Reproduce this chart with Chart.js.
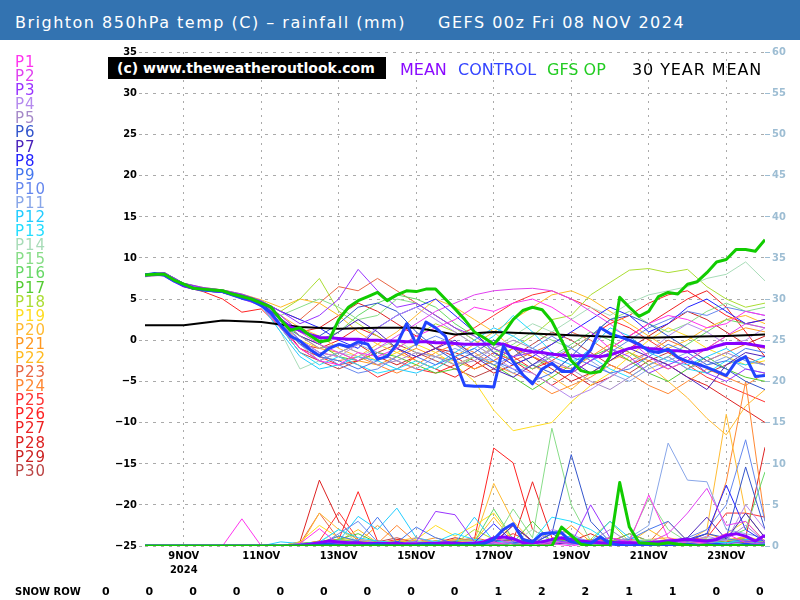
<!DOCTYPE html>
<html>
<head>
<meta charset="utf-8">
<script src="https://cdn.jsdelivr.net/npm/chart.js@4.4.1/dist/chart.umd.min.js"></script>
<style>
  body { margin: 0; width: 800px; height: 600px; position: relative; overflow: hidden; background: #fff; font-family: "DejaVu Sans", sans-serif; }
  #c { position: absolute; left: 0; top: 0; }
  #bar { position: absolute; left: 0; top: 0; width: 800px; height: 40px; background: #3373b1; }
  .ttl { position: absolute; top: 13px; color: #fff; font-size: 16px; letter-spacing: 1.5px; white-space: pre; }
  #plegend { position: absolute; left: 15px; top: 55px; font-size: 15px; line-height: 14.1px; letter-spacing: 1px; }
  #wm { position: absolute; left: 108px; top: 57px; width: 269px; height: 22px; padding-left: 9px; background: #000; color: #fff; font-weight: bold; font-size: 14px; line-height: 22px; }
  .lg { position: absolute; top: 60px; font-size: 16px; }
  .snow { position: absolute; top: 585px; font-weight: bold; font-size: 11px; }
</style>
</head>
<body>
<canvas id="c" width="800" height="600"></canvas>
<div id="bar"></div>
<div class="ttl" style="left:15px">Brighton 850hPa temp (C) – rainfall (mm)</div>
<div class="ttl" style="left:438px">GEFS 00z Fri 08 NOV 2024</div>
<div id="plegend"></div>
<div id="wm">(c) www.theweatheroutlook.com</div>
<div class="lg" style="left:400px;color:#8a0aff">MEAN</div>
<div class="lg" style="left:458px;color:#3344ff">CONTROL</div>
<div class="lg" style="left:547px;color:#22cc22">GFS OP</div>
<div class="lg" style="left:632px;color:#000;letter-spacing:0.9px">30 YEAR MEAN</div>
<div class="snow" style="left:15px;font-size:10px;top:586px">SNOW ROW</div>
<div id="snowvals"></div>
<script>
// forecast hours from 00z 08 Nov
const hours6 = [0,6,12,18,24,30,36,42,48,54,60,66,72,78,84,90,96,102,108,114,120,126,132,138,144,150,156,162,168,174,180,186,192,198,204,210,216,222,228,234,240,246,252,258,264,270,276,282,288,294,300,306,312,318,324,330,336,342,348,354,360,366,372,378,384];
const hours12 = [0,12,24,36,48,60,72,84,96,108,120,132,144,156,168,180,192,204,216,228,240,252,264,276,288,300,312,324,336,348,360,372,384];
const hours24 = [0,24,48,72,96,120,144,168,192,216,240,264,288,312,336,360,384];

const dateTicks = [24,72,120,168,216,264,312,360];
const dateLabels = [['9NOV','2024'],'11NOV','13NOV','15NOV','17NOV','19NOV','21NOV','23NOV'];
const snowRow = [0,0,0,0,0,0,0,0,0,1,2,2,1,1,0,0];

// 850hPa temps (C)
const opTemp = [7.9,8.0,8.0,7.3,6.8,6.3,6.2,6.1,
  6.0,5.6,5.3,5.0,4.5,4.0,2.5,1.2,
  1.5,0.6,-0.2,0.0,2.5,4.0,4.8,5.3,
  5.8,4.8,5.5,6.0,5.9,6.2,6.2,5.0,
  3.8,2.5,1.0,0.3,-0.5,0.8,2.5,3.6,
  4.0,3.7,2.3,0.0,-2.5,-3.7,-4.0,-3.8,
  -2.0,5.2,4.0,2.9,3.5,5.3,5.8,5.6,
  6.8,7.1,8.2,9.5,9.8,11.0,11.0,10.8,
  12.2];
const controlTemp = [7.9,8.1,7.9,7.2,6.7,6.3,6.1,6.0,
  5.9,5.5,5.1,4.8,4.2,3.3,1.8,0.5,
  -0.1,-1.1,-1.9,-1.0,-0.5,-0.8,-0.2,-0.5,
  -2.3,-2.0,-0.5,2.0,-0.5,2.2,1.5,0.5,
  -2.5,-5.5,-5.6,-5.6,-5.7,-0.7,-2.6,-4.2,
  -5.3,-3.5,-2.8,-3.8,-3.8,-2.5,-1.2,1.5,
  0.8,0.4,0.0,-0.5,-1.3,-1.5,-1.1,-2.1,
  -2.6,-2.9,-3.3,-3.8,-4.3,-2.6,-2.0,-4.4,
  -4.3];
const meanTemp = [7.9,8.0,7.9,7.2,6.6,6.3,6.2,6.0,
  5.9,5.6,5.3,5.0,4.5,4.0,2.5,1.6,
  1.2,0.7,0.3,0.3,0.2,0.1,0.1,0.0,
  0.0,-0.1,-0.1,-0.2,-0.2,-0.2,-0.3,-0.3,
  -0.4,-0.5,-0.5,-0.5,-0.4,-0.5,-0.9,-1.2,
  -1.4,-1.5,-1.7,-1.8,-1.9,-1.9,-1.9,-2.0,
  -1.8,-1.4,-1.0,-0.8,-1.0,-1.1,-1.3,-1.3,
  -1.4,-1.3,-1.1,-0.7,-0.4,-0.4,-0.4,-0.6,
  -0.8];
const climTemp = [1.8,1.8,2.4,2.2,1.6,1.4,1.5,1.5,0.7,1.0,0.8,0.6,0.4,0.3,0.4,0.5,0.7];

// rainfall (mm)
const opRain = [0,0,0,0,0,0,0,0, 0,0,0,0,0,0,0,0, 0,0,0,0,0,0,0,0, 0,0,0,0,0,0,0,0,
  0,0,0,0,0,0,0,0, 0,0,0,2.3,1.3,0.2,0,0, 0,7.7,2.3,0.4,0.3,0.2,0.4,0.2,
  0.1,0,0.1,0,0,0.1,0,0, 0];
const controlRain = [0,0,0,0,0,0,0,0, 0,0,0,0,0,0,0,0, 0,0,0.1,0.2,0.1,0,0,0.1,
  0.2,0.1,0,0,0.1,0.2,0.1,0, 0.1,0.2,0.1,0.3,0.8,2.0,2.7,0.8, 0.5,1.5,1.6,1.6,0.5,0.3,0.3,1.1,
  0.3,0.1,0,0.1,0.2,0.1,0,0.1, 0.2,0.1,0.1,0.2,0.1,0.1,0.2,0.1, 0.1];
const meanRain = [0,0,0,0,0,0,0,0, 0,0,0,0,0,0,0,0, 0.1,0.2,0.4,0.6,0.5,0.4,0.4,0.3,
  0.3,0.3,0.3,0.2,0.2,0.3,0.3,0.4, 0.3,0.3,0.3,0.5,1.0,1.1,0.9,0.4, 0.4,0.5,0.8,1.0,0.8,0.6,0.5,0.4,
  0.3,0.4,0.4,0.3,0.4,0.5,0.6,0.7, 0.8,0.7,0.6,0.8,1.3,1.5,1.2,0.6, 1.3];

// perturbations, 12-hourly
const pertNames = ['P1','P2','P3','P4','P5','P6','P7','P8','P9','P10','P11','P12','P13','P14','P15','P16','P17','P18','P19','P20','P21','P22','P23','P24','P25','P26','P27','P28','P29','P30'];
const pertColors = ['#ff33ee','#e040f0','#9933ff','#b58aee','#a589c8','#3355cc','#4a22bb','#2222ff','#4477ee','#6688ee','#88a6e8','#22ccff','#22ddff','#a8dcb8','#88dd88','#66d866','#55cc33','#aadd33','#ffdd22','#ffbb33','#ff9922','#ffbb22','#e86644','#ff8833','#ff3333','#ff2222','#ee2222','#dd2222','#cc2222','#bb4444'];

const pertTemp = [
  [7.8,8.0,6.6,6.1,5.8,5.0,4.2, 1.5,-1.0,-2.5,-3.0,-1.5,-2.0,-1.0,0.5, 1.5,2.5,4.0,3.5,4.5,5.0,4.0,2.5,1.0, -1.0,0.5,2.0,3.0,2.5,1.5,2.0,3.5,3.0],
  [7.9,8.1,6.7,6.3,6.0,5.4,4.6, 3.0,1.0,-0.5,-1.5,-2.5,-1.0,0.5,2.0, 3.5,4.5,5.5,6.0,6.2,6.3,6.0,5.0,3.5, 2.0,0.0,-2.0,-3.5,-2.5,-1.0,0.5,2.0,1.5],
  [8.0,8.2,6.9,6.4,6.1,5.6,4.8, 3.5,2.0,3.0,5.0,8.6,6.0,4.0,4.5, 3.0,1.5,0.5,-1.0,-2.0,-1.5,-3.0,-4.0,-2.5, -1.0,-2.0,-4.0,-3.0,-2.0,-4.0,-5.0,-3.5,-4.0],
  [7.9,8.0,6.8,6.2,5.9,5.2,4.4, 2.0,0.0,-1.5,-2.0,-0.5,1.5,3.0,4.0, 2.5,1.0,-0.5,-2.0,-3.5,-4.0,-5.5,-7.0,-6.0, -4.5,-3.0,-1.5,0.5,2.0,1.0,-0.5,0.0,1.5],
  [7.7,7.9,6.6,6.0,5.8,5.1,4.3, 2.5,0.5,-1.0,-0.5,-1.5,-3.0,-2.5,-1.5, -2.0,-3.0,-2.5,-1.0,0.0,-1.0,-2.5,-3.5,-5.0, -6.0,-4.5,-3.0,-2.0,-3.5,-2.5,-1.5,-2.5,-3.0],
  [8.0,8.1,6.8,6.2,6.0,5.4,4.6, 3.0,1.0,0.5,2.0,4.0,4.5,3.5,1.0, -1.0,-2.5,-1.5,0.0,-1.0,-3.0,-4.0,-2.0,0.5, 2.5,3.0,2.0,0.5,-1.0,-2.5,-3.5,-5.0,-6.0],
  [7.9,8.0,6.7,6.1,5.9,5.3,4.5, 2.5,0.5,-0.5,1.0,2.5,1.0,-1.0,-2.0, -1.0,0.0,-2.0,-3.5,-4.5,-3.0,-1.5,-2.5,-4.0, -2.5,-1.0,-2.0,-3.0,-4.5,-6.0,-3.0,-1.5,-2.0],
  [8.0,8.2,6.9,6.3,6.0,5.5,4.7, 3.5,2.5,1.5,0.0,-1.0,1.5,3.0,4.0, 5.0,3.0,1.0,-1.5,-3.0,-2.0,-0.5,1.0,2.5, 4.0,3.0,1.0,2.0,4.0,5.0,3.5,2.0,2.5],
  [7.9,8.1,6.8,6.2,6.0,5.2,4.4, 2.0,-0.5,-2.0,-2.5,-3.5,-2.5,-1.0,-2.0, -3.0,-2.0,-1.0,-2.5,-3.5,-5.0,-4.0,-2.0,-3.0, -4.0,-3.5,-2.0,-0.5,-1.5,-3.0,-2.5,-1.0,-1.5],
  [7.8,8.0,6.7,6.2,5.9,5.3,4.6, 2.5,0.0,-1.5,-3.0,-4.0,-3.5,-2.0,-0.5, 0.5,-0.5,-2.0,-3.0,-2.0,-1.0,0.5,-1.0,-2.5, -1.5,0.0,1.5,2.5,3.5,3.0,4.0,3.5,3.0],
  [8.0,8.1,6.8,6.3,6.1,5.4,4.5, 2.0,-0.5,-2.5,-1.5,-0.5,-1.5,-2.5,-3.5, -2.0,-1.0,-2.0,-2.5,-4.0,-3.0,-2.0,-1.0,-2.5, -4.0,-5.0,-3.5,-2.5,-1.5,-3.0,-2.0,-3.5,-4.0],
  [7.9,8.0,6.6,6.0,5.8,5.1,4.2, 1.0,-2.0,-3.5,-3.0,-2.0,-2.5,-3.5,-4.0, -3.0,-1.5,0.0,1.5,0.5,-1.0,-2.0,-3.0,-1.0, 1.5,0.5,-1.5,-2.5,-3.0,-2.0,-1.0,-2.5,-3.0],
  [8.0,8.1,6.7,6.1,5.9,5.2,4.4, 1.5,-1.5,-3.0,-2.0,-3.0,-4.0,-3.5,-2.5, -3.5,-2.0,-1.0,0.5,3.0,1.0,-1.5,-2.5,-2.0, -3.5,-4.5,-3.0,-2.0,-3.5,-4.0,-2.5,-3.0,-2.0],
  [7.9,8.0,6.8,6.2,5.9,5.2,4.3, 1.0,-3.5,-2.5,-1.5,-2.0,-1.0,0.0,-1.5, -2.0,-3.0,-2.0,-1.0,0.5,2.0,1.0,2.5,4.0, 3.0,4.5,5.5,6.0,6.5,7.5,8.0,9.5,7.2],
  [7.8,8.0,6.7,6.1,5.9,5.3,4.5, 3.0,4.0,5.0,4.0,2.5,3.0,5.0,4.5, 3.0,1.5,0.0,-1.5,-0.5,1.0,0.0,-1.0,0.5, 2.5,3.5,2.0,1.0,2.0,3.5,4.5,3.5,4.0],
  [8.0,8.1,6.8,6.3,6.0,5.4,4.6, 2.5,1.0,0.0,1.0,3.0,4.5,5.5,5.0, 4.0,2.0,0.5,-1.0,-2.5,-3.5,-2.0,-0.5,1.0, 0.0,-1.5,-3.0,-2.0,-0.5,1.0,2.5,2.0,1.5],
  [7.9,8.0,6.7,6.2,5.9,5.2,4.4, 2.0,0.5,-0.5,-2.0,-2.5,-1.5,-2.0,-3.0, -4.0,-3.5,-2.0,-3.0,-4.5,-6.0,-4.5,-3.0,-2.0, -1.0,-2.5,-4.0,-5.0,-3.5,-2.0,-3.5,-4.5,-5.0],
  [8.0,8.2,6.9,6.3,6.1,5.5,4.8, 3.5,5.0,7.5,3.5,2.0,0.5,-1.0,0.5, 2.0,1.0,-0.5,-2.0,-1.0,0.5,2.5,3.0,5.5, 7.0,8.5,8.7,8.2,8.6,6.5,5.0,4.0,4.5],
  [7.9,8.1,6.8,6.2,6.0,5.3,4.5, 2.0,0.0,-1.0,-0.5,-1.5,-2.5,-1.5,-0.5, -1.5,-3.0,-5.0,-8.5,-11.0,-10.5,-10.0,-7.5,-5.5, -4.0,-2.0,0.0,1.5,0.5,-1.0,-2.0,-3.0,-2.5],
  [8.0,8.1,6.8,6.3,6.0,5.4,4.6, 3.0,1.5,0.5,-1.0,-2.0,-0.5,1.0,3.0, 5.0,4.0,2.5,1.0,-1.0,-3.0,-4.5,-6.0,-4.0, -2.5,-1.5,-3.0,-5.0,-7.0,-9.5,-11.5,-8.0,-6.0],
  [7.9,8.0,6.7,6.1,5.9,5.2,4.4, 2.5,0.5,-1.0,-1.5,-2.5,-3.0,-2.0,-1.0, -2.0,-2.5,-3.5,-2.5,-1.0,-2.0,-3.0,-3.5,-2.0, -0.5,-1.5,-2.5,-3.5,-2.5,-1.0,0.5,1.5,1.0],
  [8.0,8.2,6.9,6.4,6.1,5.6,4.9, 4.0,5.0,4.5,3.0,1.0,-0.5,-1.5,-2.5, -3.5,-2.0,-0.5,1.0,2.5,4.0,5.5,6.0,5.0, 3.5,2.0,0.5,-1.0,0.0,1.5,2.5,3.0,2.0],
  [7.9,8.1,6.8,6.3,6.1,5.5,4.7, 3.5,2.5,4.5,6.5,6.0,7.5,6.0,4.5, 3.0,1.5,0.0,-1.5,-2.5,-1.5,-0.5,1.0,0.0, -1.5,-2.5,-1.5,0.0,-1.0,-2.5,-1.5,-0.5,-1.0],
  [7.9,8.0,6.7,6.2,6.0,5.3,4.5, 2.0,-0.5,-2.0,-2.5,-2.0,-3.0,-4.0,-3.0, -1.5,-0.5,-1.5,-3.0,-4.0,-5.0,-6.5,-5.5,-4.5, -3.0,-4.0,-5.5,-6.5,-5.0,-3.5,-4.5,-5.5,-4.0],
  [8.0,8.1,6.8,6.2,5.9,5.2,4.4, 2.0,0.0,-1.5,-2.0,-3.0,-4.5,-3.5,-2.0, -1.0,0.5,1.5,3.0,4.5,5.5,6.0,5.0,4.0, 2.5,1.5,0.0,-1.5,-3.0,-4.5,-5.5,-6.5,-7.5],
  [7.8,7.9,6.5,5.9,5.0,3.4,3.8, 1.5,-1.0,-2.0,-3.0,-2.5,-1.5,-2.5,-3.5, -4.0,-3.0,-2.0,-1.0,-2.0,-3.5,-2.5,-1.0,0.5, 2.0,3.0,4.5,5.5,6.0,4.5,3.0,2.0,2.5],
  [7.9,8.0,6.7,6.1,5.8,5.1,4.3, 2.0,-0.5,-1.0,0.0,1.5,0.5,-1.0,-2.5, -3.5,-4.5,-3.0,-1.5,-2.5,-4.0,-5.5,-4.0,-2.5, -1.0,0.5,2.0,3.5,5.0,6.0,4.0,1.0,-2.0],
  [8.0,8.1,6.8,6.3,6.0,5.3,4.5, 2.5,1.0,1.5,3.0,4.5,3.5,2.0,0.5, -1.0,-2.0,-3.5,-2.5,-1.0,-2.0,-3.0,-4.0,-5.5, -4.5,-3.0,-2.0,-3.0,-4.5,-5.5,-7.0,-8.5,-10.0],
  [7.9,8.0,6.7,6.2,5.9,5.3,4.5, 2.0,-1.0,-2.5,-1.5,-0.5,-2.0,-3.0,-2.0, -1.0,-1.5,-2.5,-4.0,-3.0,-2.0,-3.5,-5.0,-4.0, -2.5,-1.0,0.5,2.0,3.5,2.5,1.0,-0.5,0.5],
  [7.8,8.0,6.6,6.0,5.8,5.1,4.3, 1.5,-1.5,-2.5,-3.5,-2.5,-1.5,-0.5,-1.5, -2.5,-3.5,-4.5,-3.5,-2.0,-0.5,1.0,0.0,-1.5, -3.0,-4.0,-2.5,-1.5,-2.5,-4.0,-3.0,-2.0,-3.0]
];

const pertRain = [
  [0,0,0,0,0,3.3,0,0, 0.3,2.1,0.2,0,0,0.3,0,0, 0.2,0,0.5,0,0,0.3,0,0.4, 1.0,0.5,6.2,1.0,0.3,0.5,1.5,0.4,0.2],
  [0,0,0,0,0,0,0,0, 0,0.5,0.3,0,0.2,0,0.4,0, 0,0.3,1.0,0.2,0,0.5,0.3,0, 0.2,0.6,0.4,1.5,4.0,7.0,2.5,3.0,0.5],
  [0,0,0,0,0,0,0,0, 0,0,0.4,0.2,0,0.3,0.5,4.2, 3.8,0.5,0.2,0,0.4,0.8,0.3,5.0, 1.0,0.3,0,0.5,0.8,0.3,0.2,0.6,0.4],
  [0,0,0,0,0,0,0,0, 0,0.2,0,0.3,0,0,0.2,0.5, 0,0,0.3,0.6,0.2,2.0,1.5,0.3, 0,0.5,0.3,0.8,0.4,1.2,0.6,5.0,2.0],
  [0,0,0,0,0,0,0,0, 0,0,0.3,0.5,0.2,0,1.0,0.3, 0,0.2,0.4,0,0.3,0.6,0.2,0.5, 2.0,0.4,0.3,0.2,0.6,0.3,0.8,2.5,0.5],
  [0,0,0,0,0,0,0,0, 0,0,0.3,0.5,0.2,0.3,0,0.4, 0.2,0,0.6,0.8,0.3,1.5,11.1,3.0, 0.5,0.2,0.4,0.3,0.6,1.5,1.0,9.6,2.0],
  [0,0,0,0,0,0,0,0, 0,0.2,0.5,0.3,0,0.2,0.4,0.3, 0.5,0.2,0.3,2.5,0.6,0.2,0.4,0.3, 0.2,0.5,0.3,0.6,1.0,3.5,0.8,4.0,1.0],
  [0,0,0,0,0,0,0,0, 0,0,0.2,0,0.3,0.5,0.2,0, 0.3,0.4,2.7,0.5,0.3,1.5,0.4,0.2, 0.6,0.3,0.2,0.5,0.8,1.5,7.4,2.0,0.5],
  [0,0,0,0,0,0,0,0, 0.2,0.3,1.2,0.6,3.5,0.4,2.3,1.0, 0.3,0.2,0.5,0.3,0.6,0.4,0.2,0.5, 0.3,0.8,2.0,3.0,0.6,0.4,0.9,0.5,0.7],
  [0,0,0,0,0,0,0,0, 0,0,1.5,3.0,0.5,0.2,0.3,0, 0.4,0.2,0.3,0.5,0.2,0.8,0.4,0.3, 0.5,0.6,0.3,0.5,1.0,2.0,5.0,12.9,3.0],
  [0,0,0,0,0,0,0,0, 0,0.2,0.3,0.8,0.4,0.3,0.5,0.2, 0.3,0.6,0.2,0.4,0.8,0.3,0.5,0.6, 0.4,1.0,2.5,12.5,8.0,7.8,2.0,1.5,1.0],
  [0,0,0,0,0,0,0,0.5, 0.3,0.4,0.6,3.6,2.0,4.6,1.0,0.5, 0.3,3.5,0.6,0.4,0.5,0.8,1.2,0.5, 3.0,1.0,0.4,0.6,0.3,0.5,0.4,0.8,0.6],
  [0,0,0,0,0,0,0,0, 0.2,0.5,2.0,1.0,0.6,0.4,0.3,0.5, 1.5,0.8,0.4,0.3,0.6,3.5,3.0,2.0, 0.5,0.4,0.6,0.3,0.8,0.5,0.4,0.6,0.3],
  [0,0,0,0,0,0,0,0, 0,0.4,2.0,0.5,0.3,0.2,0.6,0.3, 0.4,0.5,0.8,0.3,2.0,0.6,0.4,0.5, 0.3,0.6,0.8,0.5,0.4,1.0,0.6,4.0,1.0],
  [0,0,0,0,0,0,0,0, 0,0.3,0.6,0.4,0.2,0.5,0.3,0.4, 0.6,0.8,0.5,4.5,1.0,14.3,5.0,0.6, 0.4,0.8,5.8,2.0,0.5,0.6,0.8,0.5,0.4],
  [0,0,0,0,0,0,0,0, 0,0.2,0.8,0.5,0.3,0.4,0.2,0.6, 0.3,0.5,4.5,0.8,0.4,0.6,0.3,0.5, 0.4,1.5,0.6,0.3,0.8,0.5,1.0,2.0,9.0],
  [0,0,0,0,0,0,0,0, 0.3,0.5,0.8,1.5,0.4,0.3,0.6,0.2, 0.5,0.3,0.6,0.4,3.0,0.5,0.8,0.6, 1.0,0.4,0.3,0.5,0.6,0.8,0.4,0.5,0.3],
  [0,0,0,0,0,0,0,0, 0,0.4,1.2,0.6,0.3,0.5,0.4,0.6, 0.3,2.0,0.8,0.5,0.6,0.4,0.3,0.8, 3.0,0.5,0.6,0.4,0.3,0.5,0.6,1.0,0.4],
  [0,0,0,0,0,0,0,0, 0.5,2.5,1.0,0.6,0.4,0.3,0.8,2.5, 1.2,2.5,4.0,0.8,0.6,0.5,0.4,0.6, 0.5,0.3,0.4,0.6,0.8,0.5,1.5,3.0,0.6],
  [0,0,0,0,0,0,0,0, 0,4.0,2.0,0.8,0.5,0.6,1.0,0.4, 0.8,0.6,7.6,3.0,0.5,0.6,0.8,0.4, 0.6,0.5,0.8,1.0,0.6,2.0,16.0,4.0,1.0],
  [0,0,0,0,0,0,0,0, 0.2,0.6,0.8,0.4,2.5,0.6,0.5,1.0, 0.4,0.6,0.5,0.3,0.8,0.6,2.5,0.5, 0.4,0.6,0.5,0.8,0.6,1.5,0.8,1.0,0.6],
  [0,0,0,0,0,0,0,0, 0,0.3,0.6,2.0,0.4,0.5,0.3,0.6, 0.4,0.5,3.5,0.6,0.4,0.5,0.3,0.6, 0.5,0.4,2.0,0.6,0.5,0.8,0.6,1.2,0.5],
  [0,0,0,0,0,0,0,0, 0.3,4.0,0.8,0.5,0.6,0.4,0.3,0.5, 0.6,1.0,0.5,0.4,0.6,0.3,0.5,0.8, 0.6,0.5,0.4,3.0,0.6,0.5,0.8,0.6,0.5],
  [0,0,0,0,0,0,0,0, 0,0.5,0.6,0.4,0.3,2.5,0.4,0.6, 0.5,0.3,0.6,0.8,0.5,0.6,0.4,0.5, 0.6,0.4,0.8,0.5,0.6,1.0,7.8,20.0,3.0],
  [0,0,0,0,0,0,0,0, 0.2,0.6,4.1,0.8,0.5,0.6,0.4,0.3, 0.8,0.5,0.6,1.5,0.4,0.6,0.5,0.3, 0.6,0.8,0.5,0.6,0.8,1.0,4.0,4.0,3.5],
  [0,0,0,0,0,0,0,0, 0.3,0.5,0.8,6.6,0.6,0.4,0.5,0.3, 0.6,0.8,11.9,10.1,2.0,0.6,0.5,0.4, 0.3,0.6,0.5,0.4,0.6,0.5,0.8,0.6,0.4],
  [0,0,0,0,0,0,0,0, 0,0.4,0.6,0.5,0.3,0.8,0.6,0.4, 0.5,0.3,0.8,0.6,7.8,1.0,0.6,0.4, 0.5,1.5,0.6,0.4,0.5,0.3,0.6,0.8,0.5],
  [0,0,0,0,0,0,0,0, 0.5,8.0,3.0,0.6,0.4,0.5,0.3,0.6, 0.4,0.5,0.6,0.3,0.5,0.4,0.6,1.5, 0.4,0.6,0.5,0.3,0.6,0.8,0.5,1.0,12.0],
  [0,0,0,0,0,0,0,0, 0,0.3,0.5,0.4,0.6,0.3,0.5,0.4, 1.0,0.6,0.4,2.5,0.5,0.3,0.6,0.4, 1.0,0.5,0.4,0.6,0.3,0.5,0.4,0.6,0.3],
  [0,0,0,0,0,0,0,0, 0,0.2,0.4,0.3,0.5,1.0,0.4,0.3, 0.5,0.4,0.3,0.6,0.4,0.5,1.0,0.3, 0.4,0.5,0.6,0.3,0.4,0.5,0.6,0.4,0.5]
];

// left legend + snow row
const pl = document.getElementById('plegend');
pertNames.forEach((n, i) => {
  const d = document.createElement('div');
  d.textContent = n;
  d.style.color = pertColors[i];
  pl.appendChild(d);
});
const sv = document.getElementById('snowvals');
snowRow.forEach((v, i) => {
  const s = document.createElement('div');
  s.className = 'snow';
  s.style.left = (102 + i * 43.6) + 'px';
  s.textContent = v;
  sv.appendChild(s);
});

function xy(xs, ys) { return ys.map((v, i) => ({ x: xs[i], y: v })); }

const datasets = [];
datasets.push({ data: xy(hours6, opTemp), borderColor: '#11cc00', borderWidth: 3, yAxisID: 'y', order: 0 });
datasets.push({ data: xy(hours6, opRain), borderColor: '#11cc00', borderWidth: 3, yAxisID: 'y2', order: 0 });
datasets.push({ data: xy(hours6, controlTemp), borderColor: '#2244ff', borderWidth: 3, yAxisID: 'y', order: 1 });
datasets.push({ data: xy(hours6, controlRain), borderColor: '#2244ff', borderWidth: 3, yAxisID: 'y2', order: 1 });
datasets.push({ data: xy(hours6, meanTemp), borderColor: '#8800ff', borderWidth: 3, yAxisID: 'y', order: 2 });
datasets.push({ data: xy(hours6, meanRain), borderColor: '#8800ff', borderWidth: 3, yAxisID: 'y2', order: 2 });
datasets.push({ data: xy(hours24, climTemp), borderColor: '#000000', borderWidth: 2, yAxisID: 'y', order: 3 });
pertTemp.forEach((p, i) => {
  datasets.push({ data: xy(hours12, p), borderColor: pertColors[i], borderWidth: 1, yAxisID: 'y', order: 10 });
  datasets.push({ data: xy(hours12, pertRain[i]), borderColor: pertColors[i], borderWidth: 1, yAxisID: 'y2', order: 10 });
});

const tickFont = { family: "'DejaVu Sans Condensed', 'Liberation Sans Narrow', 'DejaVu Sans'", size: 11, weight: 'bold' };

new Chart(document.getElementById('c'), {
  type: 'line',
  data: { datasets: datasets },
  options: {
    responsive: false,
    animation: false,
    devicePixelRatio: 1,
    layout: { padding: { top: 52, left: 0, right: 0, bottom: 0 } },
    plugins: { legend: { display: false }, tooltip: { enabled: false } },
    elements: { point: { radius: 0 }, line: { tension: 0, fill: false, borderJoinStyle: 'round' } },
    scales: {
      x: {
        type: 'linear', min: 0, max: 384,
        afterBuildTicks: s => { s.ticks = dateTicks.map(v => ({ value: v })); },
        afterFit: s => { s.height = 54; },
        ticks: {
          autoSkip: false, maxRotation: 0, padding: 4, color: '#000', font: tickFont,
          callback: (v, i) => dateLabels[i]
        },
        grid: { color: '#aaaaaa', drawTicks: false },
        border: { display: false, dash: [2, 5] }
      },
      y: {
        position: 'left', min: -25, max: 35,
        afterFit: s => { s.width = 145; },
        ticks: {
          stepSize: 5, padding: 2, color: '#000', font: tickFont,
          callback: v => String(v).replace('-', '\u2212')
        },
        grid: { color: '#aaaaaa', tickLength: 6, tickBorderDash: [3, 5] },
        border: { display: false, dash: [3, 5] }
      },
      y2: {
        position: 'right', min: 0, max: 60,
        afterFit: s => { s.width = 35; },
        ticks: { stepSize: 5, padding: 2, color: '#9dbdd3', font: tickFont },
        grid: { drawOnChartArea: false, color: '#9dbdd3', tickLength: 5 },
        border: { display: false }
      }
    }
  }
});
</script>
</body>
</html>
